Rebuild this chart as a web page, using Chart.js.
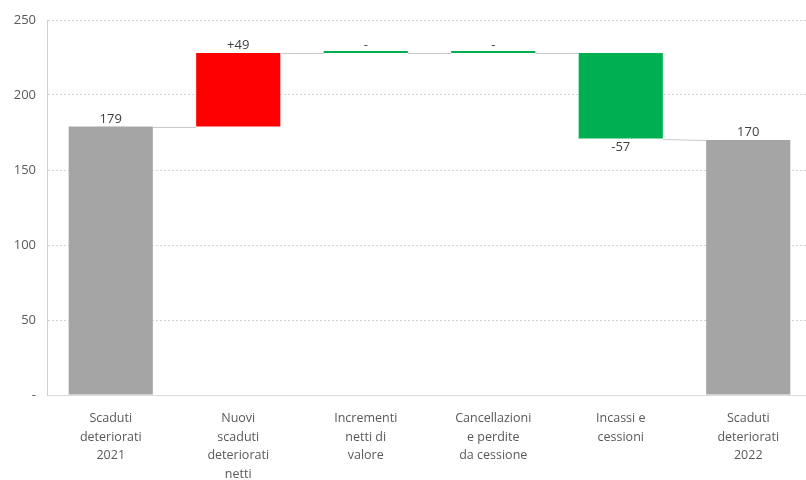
<!DOCTYPE html>
<html>
<head>
<meta charset="utf-8">
<script src="https://cdn.jsdelivr.net/npm/chart.js@4/dist/chart.umd.min.js"></script>
<style>
  html, body { margin: 0; padding: 0; background: #fff; overflow: hidden; }
  #wrap { position: relative; width: 812px; height: 480px; }
</style>
</head>
<body>
<div id="wrap"><canvas id="c"></canvas></div>
<script>
// Waterfall: opening stock, movements, closing stock
const categories = [
  ["Scaduti", "deteriorati", "2021"],
  ["Nuovi", "scaduti", "deteriorati", "netti"],
  ["Incrementi", "netti di", "valore"],
  ["Cancellazioni", "e perdite", "da cessione"],
  ["Incassi e", "cessioni"],
  ["Scaduti", "deteriorati", "2022"]
];
const stepValues = [179, 49, 0, 0, -57, 170];
const stepKinds = ["total", "delta", "delta", "delta", "delta", "total"];
const valueLabels = ["179", "+49", "-", "-", "-57", "170"];
const yTicks = [0, 50, 100, 150, 200, 250];

const GREY = "#a5a5a5", RED = "#ff0000", GREEN = "#00b050";

// Floating ranges built from running totals
const ranges = [], entry = [], exit = [], colors = [];
let running = 0;
stepValues.forEach((v, i) => {
  if (stepKinds[i] === "total") {
    ranges.push([0, v]); entry.push(v); exit.push(v); running = v; colors.push(GREY);
  } else {
    const start = running, end = running + v;
    ranges.push([Math.min(start, end), Math.max(start, end)]);
    entry.push(start); exit.push(end); running = end;
    colors.push(v > 0 ? RED : GREEN);
  }
});

const FONT = "'Open Sans', 'Noto Sans', sans-serif";

const waterfallDecor = {
  id: "waterfallDecor",
  afterDatasetsDraw(chart) {
    const ctx = chart.ctx;
    const meta = chart.getDatasetMeta(0);
    const y = chart.scales.y;
    ctx.save();
    // connectors between neighbouring bars
    ctx.strokeStyle = "#c9c9c9";
    ctx.lineWidth = 1;
    for (let i = 0; i < meta.data.length - 1; i++) {
      const a = meta.data[i], b = meta.data[i + 1];
      ctx.beginPath();
      ctx.moveTo(a.x + a.width / 2, Math.round(y.getPixelForValue(exit[i])) + 0.5);
      ctx.lineTo(b.x - b.width / 2, Math.round(y.getPixelForValue(entry[i + 1])) + 0.5);
      ctx.stroke();
    }
    // value labels
    ctx.fillStyle = "#404040";
    ctx.font = "13px " + FONT;
    ctx.textAlign = "center";
    meta.data.forEach((bar, i) => {
      const v = stepValues[i];
      const top = y.getPixelForValue(ranges[i][1]);
      const bottom = y.getPixelForValue(ranges[i][0]);
      if (stepKinds[i] === "delta" && v < 0) {
        ctx.textBaseline = "top";
        ctx.fillText(valueLabels[i], bar.x, bottom + 2);
      } else {
        ctx.textBaseline = "bottom";
        ctx.fillText(valueLabels[i], bar.x, top - 1);
      }
    });
    ctx.restore();
  }
};

new Chart(document.getElementById("c"), {
  type: "bar",
  data: {
    labels: categories,
    datasets: [{
      data: ranges,
      backgroundColor: colors,
      borderWidth: 0,
      borderSkipped: false,
      minBarLength: 2,
      barPercentage: 0.66,
      categoryPercentage: 1
    }]
  },
  options: {
    responsive: true,
    maintainAspectRatio: false,
    animation: false,
    layout: { padding: { top: 20, left: 0, right: 0, bottom: 0 } },
    plugins: { legend: { display: false }, tooltip: { enabled: false } },
    scales: {
      x: {
        grid: { display: false },
        border: { display: true, color: "#d9d9d9", width: 1 },
        ticks: {
          color: "#595959",
          font: { family: FONT, size: 12.5, lineHeight: 1.5 },
          padding: 6,
          maxRotation: 0,
          autoSkip: false
        },
        afterFit(scale) { scale.height = 85; }
      },
      y: {
        min: 0,
        max: 250,
        afterBuildTicks(scale) { scale.ticks = yTicks.map(v => ({ value: v })); },
        grid: { color: "#d4d4d4", lineWidth: 1, drawTicks: false },
        border: { display: true, color: "#cfcfcf", dash: [2, 2] },
        ticks: {
          color: "#595959",
          font: { family: FONT, size: 13 },
          padding: 11,
          callback: v => v === 0 ? "-" : String(v)
        },
        afterFit(scale) { scale.width = 47; }
      }
    }
  },
  plugins: [waterfallDecor]
});
</script>
</body>
</html>
